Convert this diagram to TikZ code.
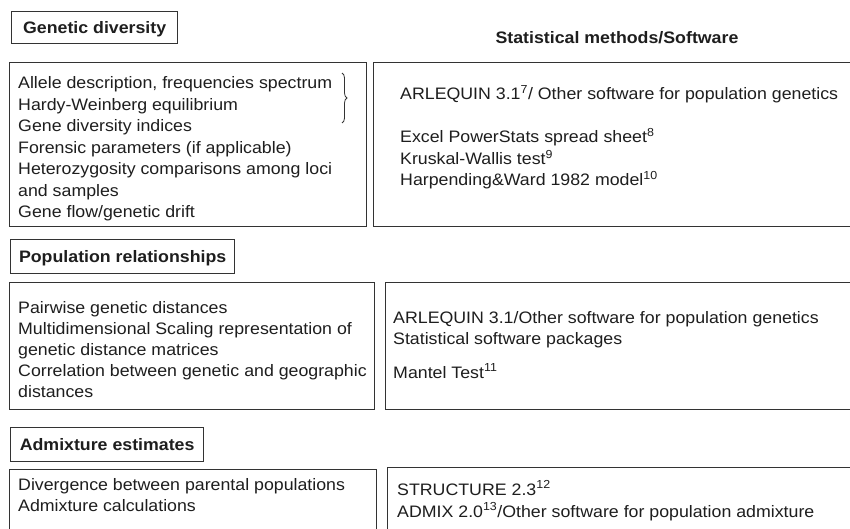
\documentclass[tikz,border=0pt]{standalone}
\usepackage{fontspec}
\setmainfont{Liberation Sans}[FakeStretch=1.07]
\usetikzlibrary{decorations.pathreplacing}
\definecolor{linec}{HTML}{333333}
\definecolor{textc}{HTML}{1E1E1E}
\begin{document}
\begin{tikzpicture}[x=1pt,y=-1pt,
  frame/.style={draw=linec, line width=1.3pt, inner sep=0pt, anchor=north west},
  head/.style={frame, font=\bfseries\fontsize{16.6}{19}\selectfont, text=textc, text height=12pt, text depth=0pt},
  txt/.style={anchor=base west, inner sep=0pt, font=\fontsize{16.6}{19}\selectfont, text=textc},
  colhead/.style={anchor=base, inner sep=0pt, font=\bfseries\fontsize{16.6}{19}\selectfont, text=textc}]
\clip (0,0) rectangle (850,529);
\fill[white] (0,0) rectangle (850,529);

% column heading
\node[colhead] (colh) at (617,44) {Statistical methods/Software};

% ---- Genetic diversity
\node[head, minimum width=166pt, minimum height=32pt] (h1) at (11,11) {Genetic diversity};
\node[frame, minimum width=357pt, minimum height=164pt] (l1) at (9,62) {};
\node[frame, minimum width=490pt, minimum height=164pt] (r1) at (373,62) {};
\node[txt] (l1a) at (18,89) {Allele description, frequencies spectrum};
\node[txt] (l1b) at (18,110.5) {Hardy-Weinberg equilibrium};
\node[txt] (l1c) at (18,132) {Gene diversity indices};
\node[txt] (l1d) at (18,153.5) {Forensic parameters (if applicable)};
\node[txt] (l1e) at (18,175) {Heterozygosity comparisons among loci};
\node[txt] (l1f) at (18,196.5) {and samples};
\node[txt] (l1g) at (18,218) {Gene flow/genetic drift};
\coordinate (bt) at (342,73);
\coordinate (bb) at (342,123);
\draw[linec, line width=0.8pt, decorate, decoration={brace, amplitude=5pt}] (bt) -- (bb);
\node[txt] (r1a) at (400,100) {ARLEQUIN 3.1\textsuperscript{7}/ Other software for population genetics};
\node[txt] (r1b) at (400,143) {Excel PowerStats spread sheet\textsuperscript{8}};
\node[txt] (r1c) at (400,164.5) {Kruskal-Wallis test\textsuperscript{9}};
\node[txt] (r1d) at (400,186) {Harpending\&Ward 1982 model\textsuperscript{10}};

% ---- Population relationships
\node[head, minimum width=224pt, minimum height=34pt] (h2) at (10,239) {Population relationships};
\node[frame, minimum width=365pt, minimum height=127pt] (l2) at (9,282) {};
\node[frame, minimum width=480pt, minimum height=127pt] (r2) at (385,282) {};
\node[txt] (l2a) at (18,313) {Pairwise genetic distances};
\node[txt] (l2b) at (18,334) {Multidimensional Scaling representation of};
\node[txt] (l2c) at (18,355) {genetic distance matrices};
\node[txt] (l2d) at (18,376.5) {Correlation between genetic and geographic};
\node[txt] (l2e) at (18,397.5) {distances};
\node[txt] (r2a) at (393,323) {ARLEQUIN 3.1/Other software for population genetics};
\node[txt] (r2b) at (393,344) {Statistical software packages};
\node[txt] (r2c) at (393,378) {Mantel Test\textsuperscript{11}};

% ---- Admixture estimates
\node[head, minimum width=193pt, minimum height=34pt] (h3) at (10,427) {Admixture estimates};
\node[frame, minimum width=367pt, minimum height=90pt] (l3) at (9,469) {};
\node[frame, minimum width=480pt, minimum height=90pt] (r3) at (387,467) {};
\node[txt] (l3a) at (18,490) {Divergence between parental populations};
\node[txt] (l3b) at (18,511) {Admixture calculations};
\node[txt] (r3a) at (397,495) {STRUCTURE 2.3\textsuperscript{12}};
\node[txt] (r3b) at (397,517) {ADMIX 2.0\textsuperscript{13}/Other software for population admixture};
\end{tikzpicture}
\end{document}
